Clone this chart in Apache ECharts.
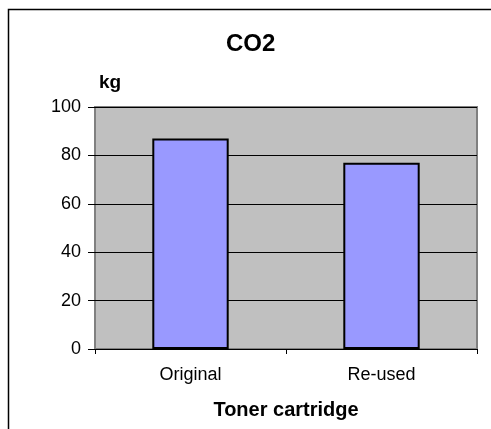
<!DOCTYPE html>
<html>
<head>
<meta charset="utf-8">
<script src="https://cdn.jsdelivr.net/npm/echarts@6/dist/echarts.min.js"></script>
<style>
html,body{margin:0;padding:0;background:#fff;}
#chart{width:491px;height:429px;}
</style>
</head>
<body>
<div id="chart"></div>
<script>
const categories = ['Original', 'Re-used'];
const co2Values = [87, 77];
const yTicks = { min: 0, max: 100, interval: 20 };
const titleText = 'CO2';
const yName = 'kg';
const xName = 'Toner cartridge';

const FONT = 'Arial, "Liberation Sans", sans-serif';
const chart = echarts.init(document.getElementById('chart'), null, { renderer: 'canvas' });
chart.setOption({
  backgroundColor: '#ffffff',
  animation: false,
  title: {
    text: titleText,
    left: 221, top: 27,
    textStyle: { fontFamily: FONT, fontSize: 24, fontWeight: 'bold', color: '#000' }
  },
  graphic: [{
    type: 'rect',
    shape: { x: 8.5, y: 9.5, width: 500, height: 440 },
    style: { fill: 'none', stroke: '#000', lineWidth: 1.5 },
    silent: true, z: 100
  }],
  grid: {
    left: 95, right: 14, top: 107, bottom: 80,
    show: true, backgroundColor: '#C0C0C0', borderColor: '#808080', borderWidth: 2
  },
  xAxis: {
    type: 'category',
    data: categories,
    boundaryGap: true,
    name: xName,
    nameLocation: 'middle',
    nameGap: 51,
    nameTextStyle: { fontFamily: FONT, fontSize: 20, fontWeight: 'bold', color: '#000' },
    axisLine: { show: true, lineStyle: { color: '#000', width: 1 } },
    axisTick: { show: true, alignWithLabel: false, length: 5, lineStyle: { color: '#000' } },
    axisLabel: { fontFamily: FONT, fontSize: 18, color: '#000', margin: 17 },
    splitLine: { show: false }
  },
  yAxis: {
    type: 'value',
    min: yTicks.min, max: yTicks.max, interval: yTicks.interval,
    name: yName,
    nameLocation: 'end',
    nameGap: 15,
    nameTextStyle: { fontFamily: FONT, fontSize: 19, fontWeight: 'bold', color: '#000', align: 'left', padding: [0, 0, 0, 4] },
    axisLine: { show: false },
    axisTick: { show: true, length: 7, lineStyle: { color: '#000' } },
    axisLabel: { fontFamily: FONT, fontSize: 18, color: '#000', margin: 14 },
    splitLine: { show: true, lineStyle: { color: '#000', width: 1 } }
  },
  series: [{
    type: 'bar',
    data: co2Values,
    barWidth: '40%',
    itemStyle: { color: '#9999FF', borderColor: '#000', borderWidth: 2 }
  }]
});
</script>
</body>
</html>
